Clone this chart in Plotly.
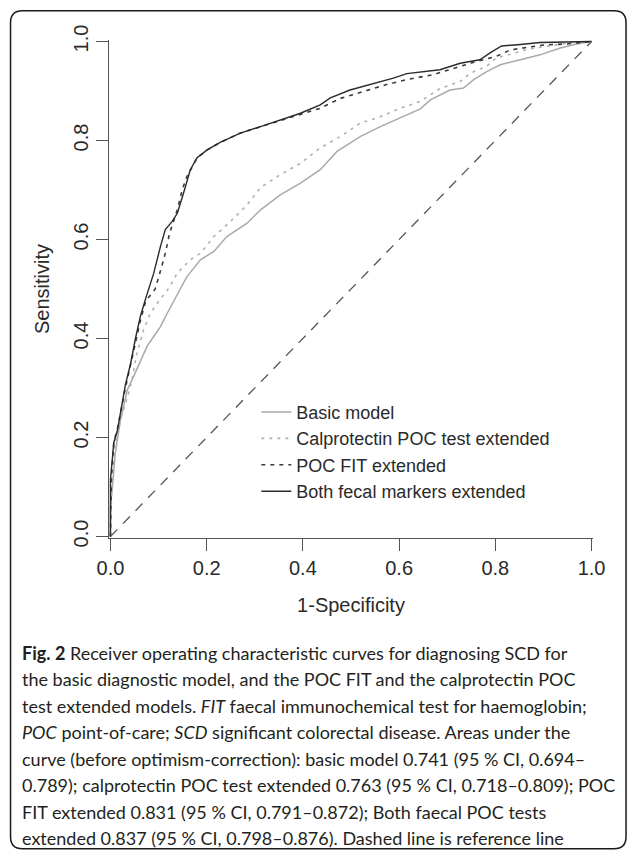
import plotly.graph_objects as go

# ---------------- data ----------------
basic_x = [0, 0, 0.005, 0.010, 0.021, 0.035, 0.048, 0.062, 0.076, 0.090, 0.104, 0.118, 0.135, 0.159,
           0.187, 0.215, 0.242, 0.284, 0.312, 0.353, 0.395, 0.436, 0.471, 0.519, 0.561, 0.602,
           0.644, 0.665, 0.706, 0.734, 0.755, 0.782, 0.810, 0.852, 0.893, 0.935, 0.969, 1.0]
basic_y = [0, 0.06, 0.11, 0.168, 0.236, 0.296, 0.323, 0.354, 0.384, 0.404, 0.424, 0.451, 0.482, 0.525,
           0.559, 0.576, 0.606, 0.633, 0.660, 0.690, 0.714, 0.741, 0.778, 0.808, 0.828, 0.845,
           0.864, 0.882, 0.902, 0.906, 0.923, 0.939, 0.953, 0.963, 0.973, 0.987, 0.995, 1.0]

calpro_x = [0, 0.003, 0.010, 0.022, 0.035, 0.045, 0.055, 0.069, 0.083, 0.100, 0.120, 0.139, 0.166,
            0.187, 0.215, 0.249, 0.284, 0.312, 0.353, 0.395, 0.436, 0.478, 0.519, 0.561, 0.602,
            0.644, 0.685, 0.727, 0.748, 0.782, 0.802, 0.827, 0.870, 0.921, 0.960, 1.0]
calpro_y = [0, 0.12, 0.19, 0.24, 0.28, 0.317, 0.37, 0.418, 0.451, 0.475, 0.500, 0.532, 0.559,
            0.572, 0.606, 0.636, 0.670, 0.705, 0.731, 0.754, 0.785, 0.808, 0.835, 0.848, 0.865,
            0.879, 0.905, 0.919, 0.936, 0.950, 0.967, 0.973, 0.985, 0.993, 0.998, 1.0]

fit_x = [0, 0.002, 0.007, 0.015, 0.031, 0.042, 0.052, 0.062, 0.073, 0.085, 0.093, 0.105, 0.114,
         0.123, 0.139, 0.149, 0.159, 0.180, 0.201, 0.228, 0.270, 0.312, 0.353, 0.395, 0.436,
         0.478, 0.519, 0.574, 0.616, 0.671, 0.755, 0.802, 0.831, 0.900, 0.949, 1.0]
fit_y = [0, 0.12, 0.19, 0.22, 0.30, 0.35, 0.395, 0.435, 0.475, 0.49, 0.50, 0.54, 0.572,
         0.613, 0.66, 0.70, 0.727, 0.765, 0.781, 0.796, 0.815, 0.828, 0.840, 0.853, 0.865,
         0.885, 0.897, 0.913, 0.923, 0.933, 0.958, 0.970, 0.983, 0.993, 0.995, 1.0]

both_x = [0, 0, 0.007, 0.014, 0.031, 0.042, 0.052, 0.062, 0.073, 0.083, 0.090, 0.104, 0.114,
          0.128, 0.139, 0.152, 0.166, 0.180, 0.201, 0.228, 0.270, 0.312, 0.353, 0.395, 0.436,
          0.457, 0.498, 0.540, 0.588, 0.616, 0.658, 0.685, 0.727, 0.768, 0.789, 0.813, 0.852,
          0.893, 1.0]
both_y = [0, 0.114, 0.19, 0.212, 0.306, 0.35, 0.40, 0.444, 0.48, 0.51, 0.532, 0.586, 0.62,
          0.636, 0.653, 0.694, 0.741, 0.765, 0.781, 0.796, 0.815, 0.828, 0.841, 0.855, 0.872,
          0.886, 0.902, 0.913, 0.926, 0.935, 0.939, 0.943, 0.956, 0.963, 0.977, 0.991, 0.994,
          0.998, 1.0]

ref_x = [0, 1]
ref_y = [0, 1]

series_names = ["Basic model", "Calprotectin POC test extended", "POC FIT extended",
                "Both fecal markers extended"]
tick_vals = [0.0, 0.2, 0.4, 0.6, 0.8, 1.0]
tick_text = ["0.0", "0.2", "0.4", "0.6", "0.8", "1.0"]

caption_lines = [
    "<b>Fig. 2</b> Receiver operating characteristic curves for diagnosing SCD for",
    "the basic diagnostic model, and the POC FIT and the calprotectin POC",
    "test extended models. <i>FIT</i> faecal immunochemical test for haemoglobin;",
    "<i>POC</i> point-of-care; <i>SCD</i> significant colorectal disease. Areas under the",
    "curve (before optimism-correction): basic model 0.741 (95 % CI, 0.694–",
    "0.789); calprotectin POC test extended 0.763 (95 % CI, 0.718–0.809); POC",
    "FIT extended 0.831 (95 % CI, 0.791–0.872); Both faecal POC tests",
    "extended 0.837 (95 % CI, 0.798–0.876). Dashed line is reference line",
]

# ---------------- geometry ----------------
W_IMG, H_IMG = 627, 850
X0_PX, X1_PX = 110.0, 591.5     # pixel of x=0 and x=1
Y0_PX, Y1_PX = 536.7, 41.7      # pixel of y=0 and y=1
PAD = 0.003
xr = [-PAD, 1 + PAD]
yr = [-PAD, 1 + PAD]
sx = X1_PX - X0_PX
sy = Y0_PX - Y1_PX
plot_w = sx * (1 + 2 * PAD)
plot_h = sy * (1 + 2 * PAD)
m_l = X0_PX - sx * PAD
m_t = Y1_PX - sy * PAD
m_r = W_IMG - m_l - plot_w
m_b = H_IMG - m_t - plot_h


def px_to_paper_x(px):
    return (px - m_l) / plot_w


def py_to_paper_y(py):
    return (m_t + plot_h - py) / plot_h


AXFONT = "Liberation Sans, Arial, Helvetica, sans-serif"
CAPFONT = "Lato, Liberation Sans, sans-serif"

fig = go.Figure()

fig.add_trace(go.Scatter(x=ref_x, y=ref_y, mode="lines", showlegend=False,
                         line=dict(color="#555555", width=1.3, dash="10px,8px"), hoverinfo="skip"))

styles = [
    dict(color="#a9a9a9", width=1.5, dash="solid"),
    dict(color="#b0b0b0", width=1.6, dash="3px,5px"),
    dict(color="#3a3a3a", width=1.6, dash="4px,5px"),
    dict(color="#2a2a2a", width=1.4, dash="solid"),
]
xs = [basic_x, calpro_x, fit_x, both_x]
ys = [basic_y, calpro_y, fit_y, both_y]
for i, name in enumerate(series_names):
    fig.add_trace(go.Scatter(x=xs[i], y=ys[i], mode="lines", name=name, line=styles[i]))

# rounded border around the whole panel
bl, bt, br, bb, rad = 10.0, 11.0, 626.0, 849.0, 12.0
def P(px, py):
    return "%.5f,%.5f" % (px_to_paper_x(px), py_to_paper_y(py))
border_path = ("M" + P(bl + rad, bt) + " L" + P(br - rad, bt) + " Q" + P(br, bt) + " " + P(br, bt + rad)
               + " L" + P(br, bb - rad) + " Q" + P(br, bb) + " " + P(br - rad, bb)
               + " L" + P(bl + rad, bb) + " Q" + P(bl, bb) + " " + P(bl, bb - rad)
               + " L" + P(bl, bt + rad) + " Q" + P(bl, bt) + " " + P(bl + rad, bt) + " Z")
fig.add_shape(type="path", path=border_path, xref="paper", yref="paper",
              line=dict(color="#1a1a1a", width=1.5), layer="above")

annotations = []
cap_top = 653.0
cap_step = 26.45
for i, line in enumerate(caption_lines):
    annotations.append(dict(text=line, xref="paper", yref="paper", x=px_to_paper_x(19),
                            y=py_to_paper_y(cap_top + i * cap_step), xanchor="left", yanchor="middle",
                            showarrow=False, font=dict(family=CAPFONT, size=18, color="#231f20")))

fig.update_layout(
    width=W_IMG, height=H_IMG,
    margin=dict(l=m_l, r=m_r, t=m_t, b=m_b, pad=0),
    paper_bgcolor="white", plot_bgcolor="white",
    showlegend=True,
    legend=dict(x=px_to_paper_x(256), y=py_to_paper_y(394), xanchor="left", yanchor="top",
                bgcolor="rgba(0,0,0,0)", borderwidth=0, tracegroupgap=0,
                font=dict(family=AXFONT, size=18, color="#2a2a2a")),
    annotations=annotations,
    xaxis=dict(range=xr, tickvals=tick_vals, ticktext=tick_text, ticks="outside", ticklen=12,
               tickwidth=1.2, tickcolor="#555555", showline=True, linecolor="#555555", linewidth=1.2,
               showgrid=False, zeroline=False, tickfont=dict(family=AXFONT, size=20, color="#2a2a2a"),
               title=dict(text="1-Specificity", standoff=19,
                          font=dict(family=AXFONT, size=20, color="#2a2a2a"))),
    yaxis=dict(range=yr, tickvals=tick_vals, ticktext=tick_text, ticks="outside", ticklen=12,
               tickwidth=1.2, tickcolor="#555555", showline=True, linecolor="#555555", linewidth=1.2,
               showgrid=False, zeroline=False, tickangle=-90,
               tickfont=dict(family=AXFONT, size=20, color="#2a2a2a"),
               title=dict(text="Sensitivity", standoff=14,
                          font=dict(family=AXFONT, size=20, color="#2a2a2a"))),
)

fig.write_html("out.html", config={"displayModeBar": False},
               post_script="document.body.style.margin='0';document.body.style.padding='0';")
